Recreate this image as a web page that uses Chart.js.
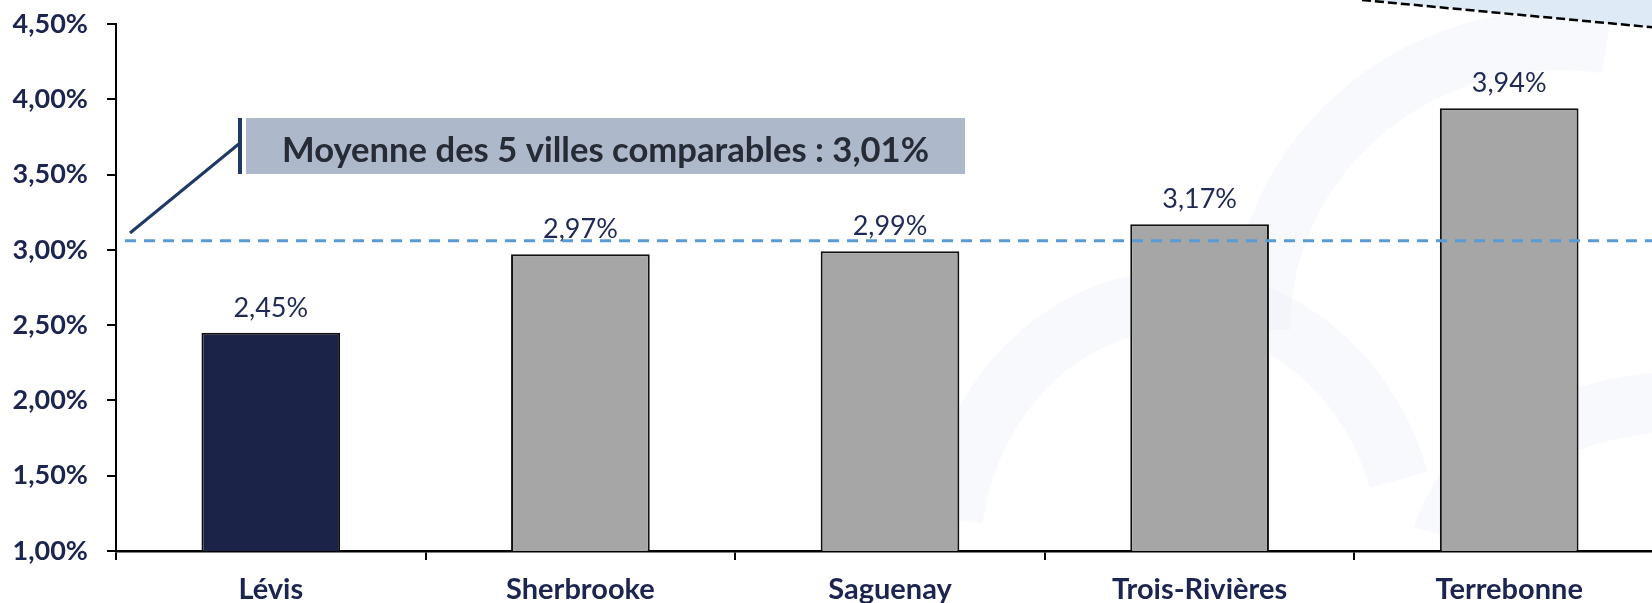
<!DOCTYPE html>
<html>
<head>
<meta charset="utf-8">
<script src="https://cdn.jsdelivr.net/npm/chart.js@4.4.1/dist/chart.umd.min.js"></script>
<style>
  html, body { margin: 0; padding: 0; background: #fff; overflow: hidden; }
  #wrap { width: 1652px; height: 603px; overflow: hidden; position: relative; }
  canvas { display: block; }
</style>
</head>
<body>
<div id="wrap"><canvas id="tauxChart" width="1664" height="603"></canvas></div>
<script>
// data
const villes = ['Lévis', 'Sherbrooke', 'Saguenay', 'Trois-Rivières', 'Terrebonne'];
const taux = [2.45, 2.97, 2.99, 3.17, 3.94];
const couleurs = ['#1b2349', '#a6a6a6', '#a6a6a6', '#a6a6a6', '#a6a6a6'];
const yTicks = [1, 1.5, 2, 2.5, 3, 3.5, 4, 4.5];
const moyenneTexte = 'Moyenne des 5 villes comparables : 3,01%';
const moyenneNiveau = 3.06; // where the dashed line sits in the picture

const navy = '#1c2450';
const fmt = v => v.toFixed(2).replace('.', ',') + '%';

// faint watermark + cut-off callout in the top-right corner
const decor = {
  id: 'decor',
  beforeDraw(chart) {
    const ctx = chart.ctx;
    ctx.save();
    ctx.fillStyle = '#fff';
    ctx.fillRect(0, 0, chart.width, chart.height);
    ctx.strokeStyle = 'rgba(236,239,245,0.35)';
    ctx.lineWidth = 60;
    ctx.beginPath();
    ctx.ellipse(1180, 560, 230, 260, 0, Math.PI * 1.05, Math.PI * 1.9);
    ctx.stroke();
    ctx.beginPath();
    ctx.ellipse(1560, 330, 300, 290, 0, Math.PI * 1.0, Math.PI * 1.55);
    ctx.stroke();
    ctx.beginPath();
    ctx.ellipse(1700, 560, 260, 160, 0, Math.PI * 1.05, Math.PI * 1.5);
    ctx.stroke();
    // light blue callout cut by the top edge
    ctx.fillStyle = '#deebf7';
    ctx.beginPath();
    ctx.moveTo(1362, 0);
    ctx.lineTo(1660, 28);
    ctx.lineTo(1660, 0);
    ctx.closePath();
    ctx.fill();
    ctx.strokeStyle = '#000';
    ctx.lineWidth = 2.5;
    ctx.setLineDash([9, 4]);
    ctx.beginPath();
    ctx.moveTo(1362, 0);
    ctx.lineTo(1660, 28);
    ctx.stroke();
    ctx.restore();
  }
};

const valeurs = {
  id: 'valeurs',
  afterDatasetsDraw(chart) {
    const ctx = chart.ctx;
    const y = chart.scales.y;
    const area = chart.chartArea;
    // average line
    const ly = y.getPixelForValue(moyenneNiveau);
    ctx.save();
    ctx.strokeStyle = '#5b9bd5';
    ctx.lineWidth = 3;
    ctx.setLineDash([11, 8]);
    ctx.beginPath();
    ctx.moveTo(area.left + 9, ly);
    ctx.lineTo(area.right, ly);
    ctx.stroke();
    ctx.restore();

    // value labels
    ctx.save();
    ctx.font = '27px Lato';
    ctx.fillStyle = '#1f2956';
    ctx.textAlign = 'center';
    ctx.textBaseline = 'alphabetic';
    chart.getDatasetMeta(0).data.forEach((bar, i) => {
      ctx.fillText(fmt(taux[i]), bar.x, bar.y - 16);
    });
    ctx.restore();
  },
  afterDraw(chart) {
    const ctx = chart.ctx;
    ctx.save();
    // leader line
    ctx.strokeStyle = '#1f3864';
    ctx.lineWidth = 3;
    ctx.beginPath();
    ctx.moveTo(130, 233);
    ctx.lineTo(240, 143);
    ctx.stroke();
    ctx.fillStyle = '#1f3864';
    ctx.fillRect(238, 118, 4, 56);
    // box
    ctx.fillStyle = '#adb9ca';
    ctx.fillRect(246, 118, 719, 56);
    // text: Lato bold sized on cap height, squeezed to the reference width
    ctx.font = 'bold 35px Lato';
    const w = ctx.measureText(moyenneTexte).width;
    ctx.fillStyle = '#262b36';
    ctx.textAlign = 'center';
    ctx.textBaseline = 'alphabetic';
    ctx.translate(605.5, 162);
    ctx.scale(647 / w, 1);
    ctx.fillText(moyenneTexte, 0, 0);
    ctx.restore();
  }
};

new Chart(document.getElementById('tauxChart'), {
  type: 'bar',
  data: {
    labels: villes,
    datasets: [{
      data: taux,
      backgroundColor: couleurs,
      borderColor: '#111',
      borderWidth: 2,
      categoryPercentage: 1,
      barPercentage: 0.448
    }]
  },
  options: {
    responsive: false,
    animation: false,
    devicePixelRatio: 1,
    layout: { padding: { top: 24, left: 0, right: 0, bottom: 0 } },
    plugins: { legend: { display: false }, tooltip: { enabled: false } },
    scales: {
      x: {
        grid: { offset: true, drawOnChartArea: false, drawTicks: true, tickLength: 9, color: '#000', lineWidth: 2 },
        border: { display: true, color: '#000', width: 2.5 },
        ticks: { font: { family: 'Lato', weight: 'bold', size: 29 }, color: navy, padding: 12, maxRotation: 0 },
        afterFit(scale) { scale.height = 52; }
      },
      y: {
        min: 1,
        max: 4.5,
        afterBuildTicks(scale) { scale.ticks = yTicks.map(v => ({ value: v })); },
        grid: { drawOnChartArea: false, drawTicks: true, tickLength: 9, color: '#000', lineWidth: 2 },
        border: { display: true, color: '#000', width: 2 },
        ticks: { font: { family: 'Lato', weight: 'bold', size: 27 }, color: navy, padding: 19, callback: v => fmt(v) },
        afterFit(scale) {
          scale.width = 116;
          scale.paddingTop = 0;
          scale.paddingBottom = 0;
        }
      }
    }
  },
  plugins: [decor, valeurs]
});
</script>
</body>
</html>
